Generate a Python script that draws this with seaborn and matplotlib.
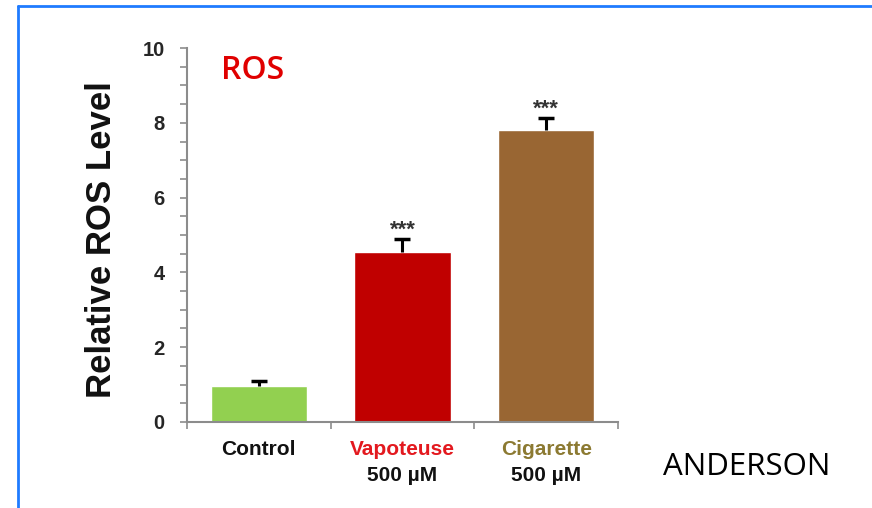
import matplotlib
matplotlib.use("Agg")
import matplotlib.pyplot as plt
from matplotlib.lines import Line2D
from matplotlib.ticker import MultipleLocator
import seaborn as sns
import pandas as pd

# Data
categories = ["Control", "Vapoteuse", "Cigarette"]
doses = ["", "500 µM", "500 µM"]
ros_level = [0.95, 4.55, 7.8]
ros_sem = [0.15, 0.35, 0.33]
significance = ["", "***", "***"]

bar_colors = ["#92D050", "#C00000", "#996633"]
label_colors = ["#111111", "#E3191F", "#8C7A32"]

sns.set_theme(style="white")
plt.rcParams["font.family"] = ["Liberation Sans", "DejaVu Sans"]

df = pd.DataFrame({"group": categories, "level": ros_level})

fig = plt.figure(figsize=(8.72, 5.08), dpi=100)
fig.patch.set_facecolor("white")
ax = fig.add_axes([0.2144, 0.1693, 0.4943, 0.7362])

sns.barplot(data=df, x="group", y="level", hue="group", palette=bar_colors,
            legend=False, errorbar=None, width=0.67, saturation=1, ax=ax)

# upper-only error bars (hide the lower cap line)
_, caps, _ = ax.errorbar(range(len(categories)), ros_level,
                         yerr=[[0] * len(ros_sem), ros_sem], fmt="none",
                         ecolor="black", elinewidth=2.2, capsize=6,
                         capthick=2.5, zorder=5)
caps[0].set_visible(False)

for i, (v, e, s) in enumerate(zip(ros_level, ros_sem, significance)):
    if s:
        ax.text(i, v + e - 0.05, s, ha="center", va="bottom",
                fontsize=16, fontweight="bold", color="#333333")

ax.set_xlim(-0.5, 2.5)
ax.set_ylim(0, 10)
ax.yaxis.set_major_locator(MultipleLocator(2))
ax.yaxis.set_minor_locator(MultipleLocator(0.5))
ax.set_xticks([-0.5, 0.5, 1.5, 2.5])
ax.set_xticklabels([])
ax.set_xticks([0, 1, 2], minor=True)
ax.set_xticklabels(categories, minor=True)

for lbl, c in zip(ax.get_xticklabels(minor=True), label_colors):
    lbl.set_color(c)
    lbl.set_fontweight("bold")
    lbl.set_fontsize(15)

ax.tick_params(axis="x", which="major", direction="out", length=5, width=1.2,
               color="#8c8c8c", bottom=True)
ax.tick_params(axis="x", which="minor", length=0, pad=13)
ax.tick_params(axis="y", which="both", direction="out", length=5, width=1.2,
               color="#8c8c8c", left=True, pad=11)
for lbl in ax.get_yticklabels():
    lbl.set_fontweight("bold")
    lbl.set_fontsize(14.5)

for i, d in enumerate(doses):
    if d:
        ax.text(i, -0.142, d, transform=ax.get_xaxis_transform(), ha="center",
                va="center", fontsize=15, fontweight="bold", color="#111111")

for side in ["top", "right"]:
    ax.spines[side].set_visible(False)
for side in ["left", "bottom"]:
    ax.spines[side].set_color("#8c8c8c")
    ax.spines[side].set_linewidth(1.5)

ax.set_xlabel("")
ax.set_ylabel("Relative ROS Level", fontsize=25, fontweight="bold", color="#111111")
ax.yaxis.set_label_coords(-0.16, 0.487)

ax.text(0.08, 0.941, "ROS", transform=ax.transAxes, ha="left", va="center",
        fontsize=23, fontweight="semibold", color="#E00000",
        family=["Open Sans", "DejaVu Sans"])

fig.text(0.760, 0.081, "ANDERSON", ha="left", va="center", fontsize=22.5,
         color="black", family=["Open Sans", "DejaVu Sans"])

# slide frame lines
fig.add_artist(Line2D([0.0206, 1.0], [0.988, 0.988], transform=fig.transFigure,
                      color="#1F7BFF", linewidth=2))
fig.add_artist(Line2D([0.0206, 0.0206], [0.0, 0.988], transform=fig.transFigure,
                      color="#1F7BFF", linewidth=2))

fig.savefig("out.png", dpi=100, facecolor="white")
